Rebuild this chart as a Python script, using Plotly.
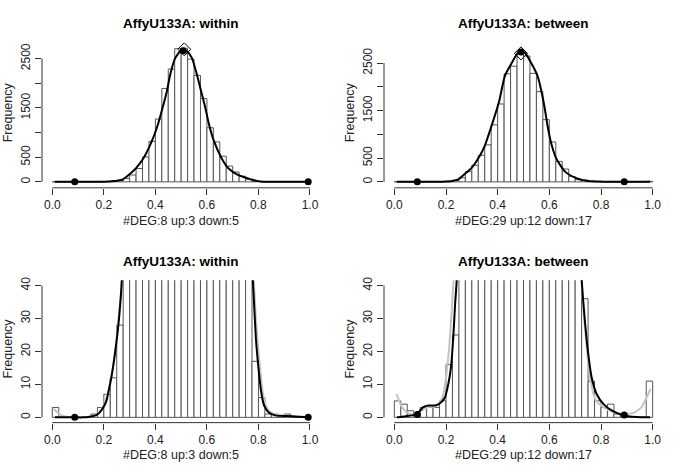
import numpy as np
import plotly.graph_objects as go

# ---------------- data ----------------
bin_width = 0.025
bin_left = [round(i * bin_width, 3) for i in range(40)]

within_counts = [3, 0, 0, 0, 0, 0, 1, 3, 7, 12,
                 28, 68, 140, 270, 505, 822, 1275, 1895, 2290, 2702,
                 2712, 2490, 2160, 1690, 1098, 811, 520, 320, 200, 115,
                 52, 17, 6, 1, 1, 0, 1, 0, 0, 0]
between_counts = [5, 4, 2, 1, 3, 3, 3, 5, 16, 25,
                  85, 215, 350, 560, 780, 1200, 1640, 2275, 2435, 2740,
                  2650, 2285, 1900, 1310, 840, 430, 270, 110, 60, 36,
                  11, 5, 3, 4, 1, 1, 0, 0, 0, 11]

within_curve_x = [0.01, 0.05, 0.087, 0.12, 0.14, 0.16, 0.18, 0.20, 0.21, 0.22, 0.23, 0.24,
                  0.25, 0.26, 0.27, 0.295, 0.325, 0.353, 0.385, 0.409, 0.427, 0.444, 0.457,
                  0.476, 0.502, 0.52, 0.541, 0.56, 0.576, 0.593, 0.608, 0.627, 0.657, 0.683,
                  0.722, 0.75, 0.767, 0.778, 0.79, 0.80, 0.81, 0.822, 0.84, 0.865, 0.91, 0.95, 0.993]
within_curve_y = [0, 0, 0, 0, 0.1, 0.4, 1.2, 3.3, 5, 8.5, 12.5, 17.5,
                  23.5, 31, 42, 135, 280, 473, 811, 1149, 1486, 1824, 2162,
                  2500, 2680, 2660, 2520, 2200, 1870, 1520, 1170, 830, 480, 275,
                  135, 85, 55, 42, 24, 15, 8, 3.6, 1.5, 0.6, 0.4, 0.2, 0]

between_curve_x = [0.01, 0.022, 0.05, 0.087, 0.112, 0.132, 0.158, 0.177, 0.196, 0.209, 0.219,
                   0.228, 0.235, 0.241, 0.25, 0.267, 0.3, 0.332, 0.35, 0.377, 0.405, 0.428,
                   0.45, 0.475, 0.49, 0.505, 0.525, 0.554, 0.578, 0.593, 0.606, 0.627, 0.662,
                   0.707, 0.725, 0.738, 0.751, 0.764, 0.783, 0.809, 0.841, 0.886, 0.938, 0.99]
between_curve_y = [0, 0.1, 0.4, 1.0, 3.1, 3.6, 3.6, 4.3, 6.1, 10.1, 15,
                   24, 34, 41, 60, 140, 300, 560, 760, 1190, 1680, 2230,
                   2460, 2690, 2740, 2720, 2550, 2235, 1676, 1187, 838, 489, 210,
                   70, 42, 29, 19, 12, 7.1, 4.1, 2.1, 0.6, 0.1, 0]

gray_within_x = [0.005, 0.02, 0.035, 0.05, 0.087, 0.14, 0.16, 0.18, 0.2, 0.22, 0.24, 0.26, 0.272,
                 None, 0.78, 0.79, 0.80, 0.81, 0.82, 0.835, 0.86, 0.9, 0.95, 0.99]
gray_within_y = [2.6, 1.5, 0.7, 0.3, 0.05, 0.15, 0.5, 1.5, 3.6, 8.8, 18, 32, 43,
                 None, 44, 30, 20, 12, 6, 2.5, 1.0, 0.6, 0.3, 0.1]

gray_between_x = [0.009, 0.029, 0.054, 0.08, 0.106, 0.132, 0.158, 0.177, 0.19, 0.203, 0.213,
                  0.222, 0.228, 0.232,
                  None, 0.722, 0.735, 0.75, 0.765, 0.78, 0.809, 0.848, 0.886, 0.925, 0.957,
                  0.983, 0.992]
gray_between_y = [7.1, 3.1, 1.3, 0.9, 2.1, 3.1, 3.3, 4.6, 7.1, 14, 22,
                  32, 40, 44,
                  None, 44, 30, 17, 9, 5.2, 3.1, 1.6, 1.1, 1.3, 3.1,
                  7.1, 8.6]

within_dots_x = [0.087, 0.993]
within_dots_y = [0, 0]
between_dots_x = [0.089, 0.89]
between_dots_y = [0.9, 0.7]
within_peak_dot = (0.508, 2660)
within_peak_diamond = (0.512, 2690)
between_peak_dot = (0.49, 2734)
between_peak_diamond = (0.49, 2705)

x_ticks = [0.0, 0.2, 0.4, 0.6, 0.8, 1.0]
x_ticklabels = ["0.0", "0.2", "0.4", "0.6", "0.8", "1.0"]
top_y_ticks = [0, 500, 1000, 1500, 2000, 2500]
top_y_ticklabels = ["0", "500", "", "1500", "", "2500"]
bot_y_ticks = [0, 10, 20, 30, 40]
bot_y_ticklabels = ["0", "10", "20", "30", "40"]

titles = ["AffyU133A: within", "AffyU133A: between", "AffyU133A: within", "AffyU133A: between"]
xlabels = ["#DEG:8 up:3 down:5", "#DEG:29 up:12 down:17",
           "#DEG:8 up:3 down:5", "#DEG:29 up:12 down:17"]

# ---------------- layout geometry (page pixels) ----------------
W, H = 685, 475
FONT = "Liberation Sans, Arial, Helvetica, sans-serif"

def px_x(p):
    return p / W

def px_y(p):
    return 1 - p / H

panels = [
    dict(x=(42, 320.3), y=(40, 186), yr=(-121, 2822.6)),
    dict(x=(384, 663), y=(40, 186), yr=(-125.5, 2929)),
    dict(x=(42, 320.3), y=(279, 422.3), yr=(-1.6, 41.6)),
    dict(x=(384, 663), y=(279, 422.3), yr=(-1.6, 41.6)),
]

fig = go.Figure()
centers = [b + bin_width / 2 for b in bin_left]

sets = [
    (within_counts, within_curve_x, within_curve_y, None, within_dots_x, within_dots_y,
     within_peak_dot, within_peak_diamond),
    (between_counts, between_curve_x, between_curve_y, None, between_dots_x, between_dots_y,
     between_peak_dot, between_peak_diamond),
    (within_counts, within_curve_x, within_curve_y, (gray_within_x, gray_within_y),
     within_dots_x, within_dots_y, None, None),
    (between_counts, between_curve_x, between_curve_y, (gray_between_x, gray_between_y),
     between_dots_x, between_dots_y, None, None),
]

shapes = []
annotations = []
for i, (p, s) in enumerate(zip(panels, sets)):
    k = "" if i == 0 else str(i + 1)
    xa, ya = "x" + k, "y" + k
    counts, cx, cy, gray, dx, dy, pk, pdia = s
    fig.add_trace(go.Bar(x=centers, y=counts, width=bin_width, xaxis=xa, yaxis=ya,
                         marker=dict(color="white", line=dict(color="#555555", width=1)),
                         showlegend=False, hoverinfo="skip"))
    if gray is not None:
        fig.add_trace(go.Scatter(x=gray[0], y=gray[1], mode="lines", xaxis=xa, yaxis=ya,
                                 line=dict(color="#c4c4c4", width=2, shape="spline", smoothing=0.6),
                                 connectgaps=False, showlegend=False, hoverinfo="skip"))
    fig.add_trace(go.Scatter(x=cx, y=cy, mode="lines", xaxis=xa, yaxis=ya,
                             line=dict(color="black", width=2, shape="spline", smoothing=0.6),
                             showlegend=False, hoverinfo="skip"))
    fig.add_trace(go.Scatter(x=dx, y=dy, mode="markers", xaxis=xa, yaxis=ya,
                             marker=dict(color="black", size=7),
                             showlegend=False, hoverinfo="skip"))
    if pk is not None:
        fig.add_trace(go.Scatter(x=[pdia[0]], y=[pdia[1]], mode="markers", xaxis=xa, yaxis=ya,
                                 marker=dict(symbol="diamond-open", color="black", size=10,
                                             line=dict(width=1)),
                                 showlegend=False, hoverinfo="skip"))
        fig.add_trace(go.Scatter(x=[pk[0]], y=[pk[1]], mode="markers", xaxis=xa, yaxis=ya,
                                 marker=dict(color="black", size=7),
                                 showlegend=False, hoverinfo="skip"))

    top = i < 2
    xd = [px_x(p["x"][0]), px_x(p["x"][1])]
    yd = [px_y(p["y"][1]), px_y(p["y"][0])]
    fig.layout["xaxis" + k] = dict(domain=xd, range=[-0.04, 1.04], anchor=ya,
                                  tickvals=x_ticks, ticktext=x_ticklabels, ticks="outside",
                                  ticklen=6, tickwidth=1, tickcolor="#333",
                                  showgrid=False, zeroline=False, showline=False,
                                  tickfont=dict(family=FONT, size=12, color="#222"))
    fig.layout["yaxis" + k] = dict(domain=yd, range=list(p["yr"]), anchor=xa,
                                  tickvals=top_y_ticks if top else bot_y_ticks,
                                  ticktext=top_y_ticklabels if top else bot_y_ticklabels,
                                  ticks="outside", ticklen=6, tickwidth=1, tickcolor="#333",
                                  tickangle=-90, showgrid=False, zeroline=False, showline=False,
                                  tickfont=dict(family=FONT, size=12, color="#222"))
    ymax_axis = 2500 if top else 40
    shapes.append(dict(type="line", xref=xa, yref=ya + " domain", x0=0, x1=1, y0=0, y1=0,
                       line=dict(color="#333", width=1)))
    shapes.append(dict(type="line", xref=xa + " domain", yref=ya, x0=0, x1=0, y0=0, y1=ymax_axis,
                       line=dict(color="#333", width=1)))
    cxp = (p["x"][0] + p["x"][1]) / 2
    annotations.append(dict(text="<b>" + titles[i] + "</b>", x=px_x(cxp), y=px_y(p["y"][0] - 19),
                            xref="paper", yref="paper", showarrow=False, xanchor="center",
                            yanchor="middle", font=dict(family=FONT, size=13.5, color="black")))
    annotations.append(dict(text=xlabels[i], x=px_x(cxp), y=px_y(p["y"][1] + 33),
                            xref="paper", yref="paper", showarrow=False, xanchor="center",
                            yanchor="middle", font=dict(family=FONT, size=12.5, color="#222")))
    annotations.append(dict(text="Frequency", x=px_x(p["x"][0] - 34),
                            y=px_y((p["y"][0] + p["y"][1]) / 2 - 3),
                            xref="paper", yref="paper", showarrow=False, textangle=-90,
                            xanchor="center", yanchor="middle",
                            font=dict(family=FONT, size=12.5, color="#222")))

fig.update_layout(width=W, height=H, margin=dict(l=0, r=0, t=0, b=0),
                  paper_bgcolor="white", plot_bgcolor="white", bargap=0,
                  shapes=shapes, annotations=annotations, showlegend=False)

# remove the browser's default 8px page margin so the figure fills the window exactly
fig.write_html("out.html",
               config={"displayModeBar": False, "staticPlot": True},
               post_script="document.body.style.margin='0';document.body.style.overflow='hidden';")
